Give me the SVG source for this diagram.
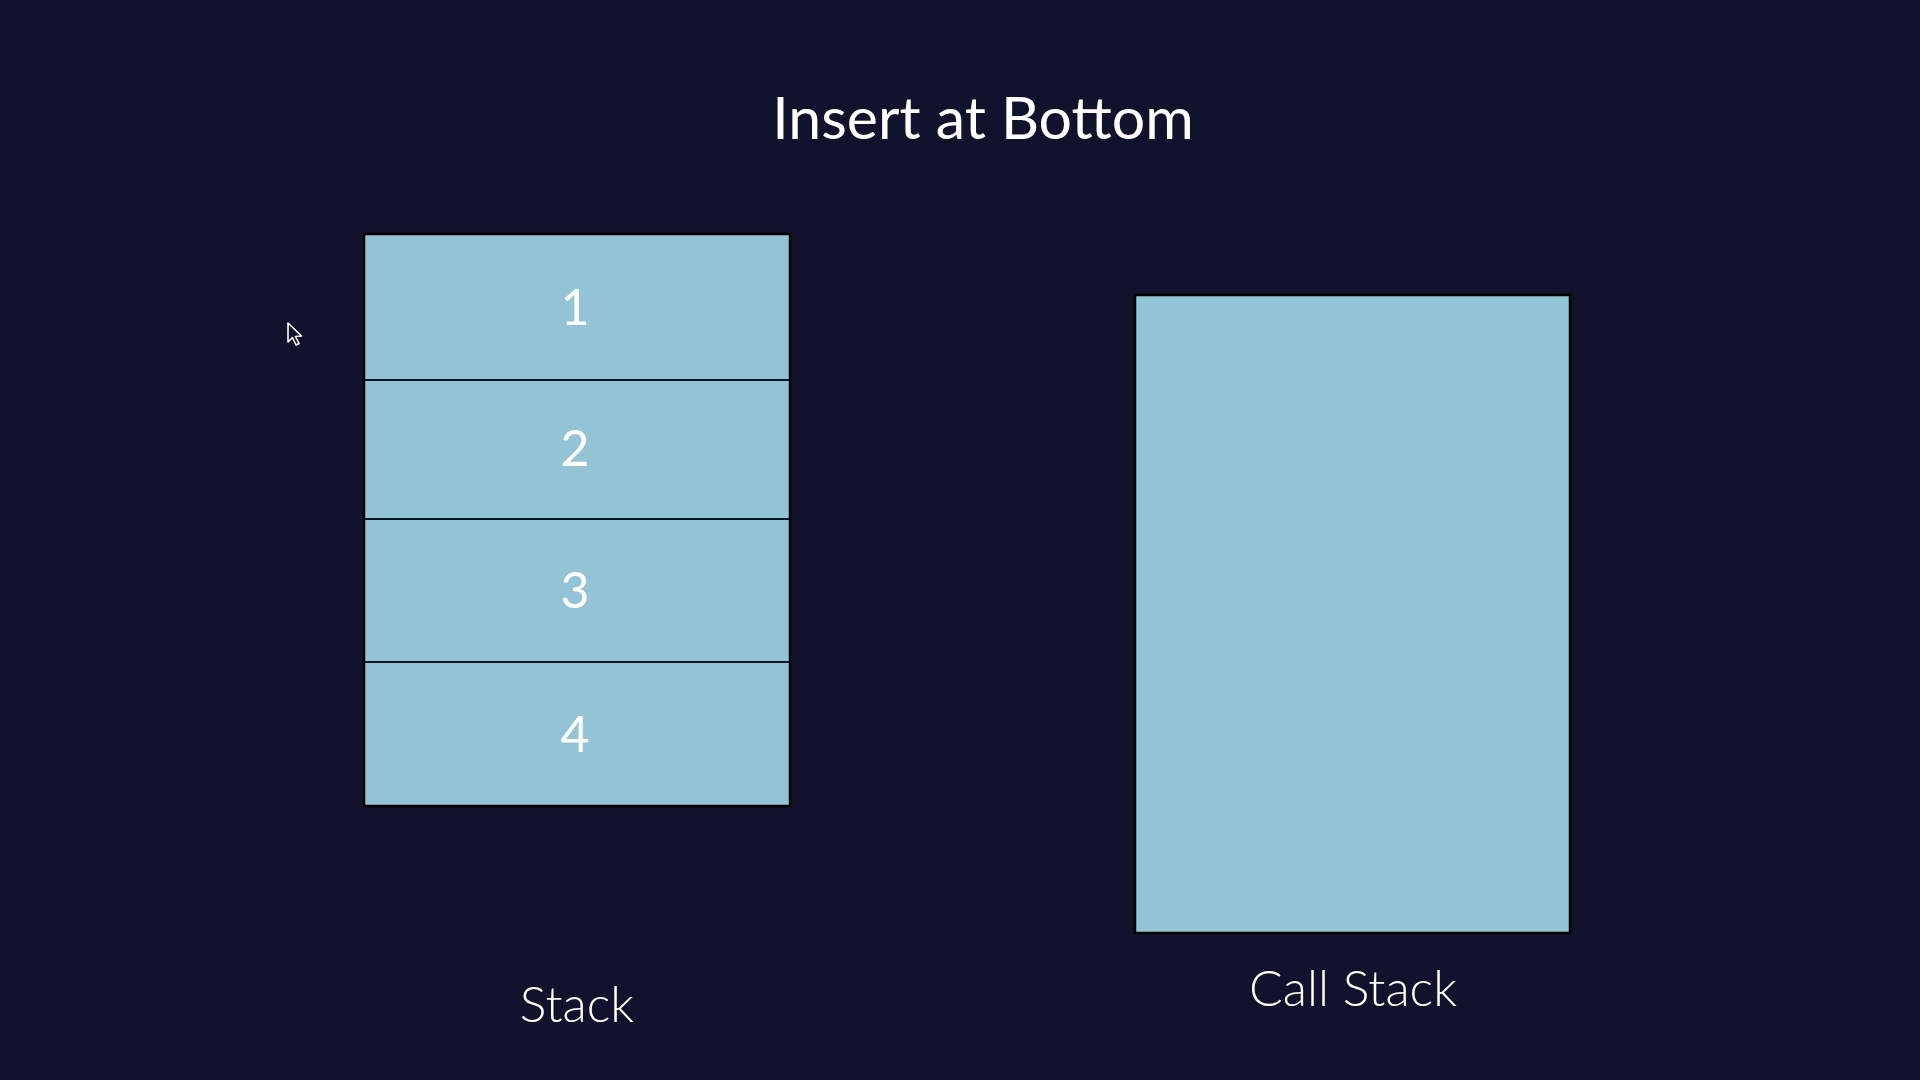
<svg xmlns="http://www.w3.org/2000/svg" width="1920" height="1080" viewBox="0 0 1920 1080">
<style>
.cell{fill:#93c4d5;stroke:#0a1420;stroke-width:2}
.outer{fill:none;stroke:#000000;stroke-width:2.5}
.num{font-family:Lato,"Noto Sans",sans-serif;font-size:50px;fill:#ffffff;text-anchor:middle;font-weight:400}
.title{font-family:Lato,"Noto Sans",sans-serif;font-size:59px;fill:#ffffff;text-anchor:middle;font-weight:400}
.label{font-family:Lato,"Noto Sans",sans-serif;font-size:50px;fill:#ffffff;text-anchor:middle;font-weight:300}
</style>
<rect x="0" y="0" width="1920" height="1080" fill="#11132c"/>
<text class="title" x="983" y="139">Insert at Bottom</text>
<g id="stack">
<g id="cell1"><rect class="cell" x="364" y="234" width="426" height="146"/><text class="num" x="575" y="325">1</text></g>
<g id="cell2"><rect class="cell" x="364" y="380" width="426" height="139"/><text class="num" x="575" y="466">2</text></g>
<g id="cell3"><rect class="cell" x="364" y="519" width="426" height="143"/><text class="num" x="575" y="608">3</text></g>
<g id="cell4"><rect class="cell" x="364" y="662" width="426" height="144"/><text class="num" x="575" y="752">4</text></g>
<rect class="outer" x="364" y="234" width="426" height="572"/>
<text class="label" x="577" y="1022">Stack</text>
</g>
<g id="callstack">
<rect class="cell" x="1135" y="295" width="435" height="638"/>
<rect class="outer" x="1135" y="295" width="435" height="638"/>
<text class="label" x="1353" y="1006">Call Stack</text>
</g>
<g id="connectors"></g>
<g id="cursor">
<path d="M288,323 L288,342 L292.5,337.5 L296,345 L299,343.5 L295.5,336.5 L301.5,336 Z" fill="#11132c" stroke="#ffffff" stroke-width="1.6" stroke-linejoin="round"/>
</g>
</svg>
